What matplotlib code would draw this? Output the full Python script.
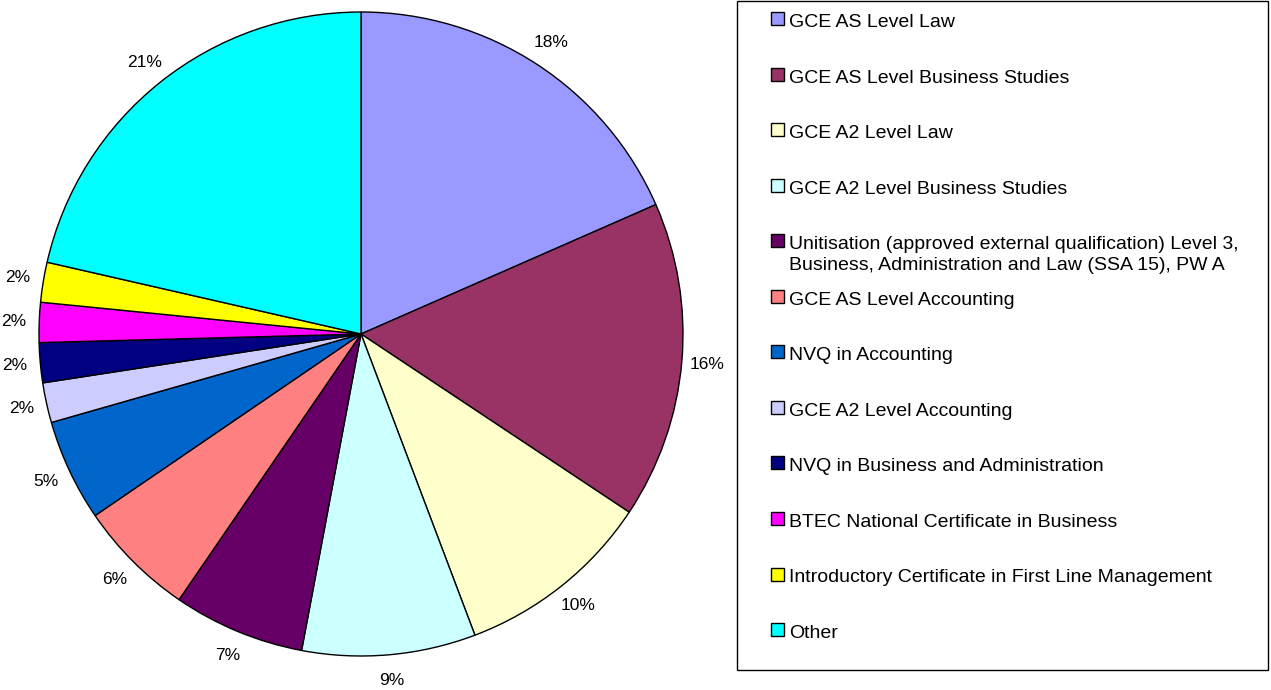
import matplotlib
matplotlib.use("Agg")
import matplotlib.pyplot as plt
from matplotlib.patches import Rectangle

plt.rcParams['font.family'] = ['Liberation Sans', 'DejaVu Sans']

# --- Dados ---
categorias = [
    'GCE AS Level Law',
    'GCE AS Level Business Studies',
    'GCE A2 Level Law',
    'GCE A2 Level Business Studies',
    'Unitisation (approved external qualification) Level 3,\nBusiness, Administration and Law (SSA 15), PW A',
    'GCE AS Level Accounting',
    'NVQ in Accounting',
    'GCE A2 Level Accounting',
    'NVQ in Business and Administration',
    'BTEC National Certificate in Business',
    'Introductory Certificate in First Line Management',
    'Other',
]
valores = [18.4, 15.9, 9.9, 8.7, 6.6, 5.9, 5.1, 2.0, 2.0, 2.0, 2.0, 21.4]
cores = ['#9999FF', '#993366', '#FFFFCC', '#CCFFFF', '#660066', '#FF8080',
         '#0066CC', '#CCCCFF', '#000080', '#FF00FF', '#FFFF00', '#00FFFF']

W, H = 1271, 690
fig = plt.figure(figsize=(W / 100, H / 100), dpi=100)

# eixo da pizza: centro (361, 334), raio 322 px
cx, cy, r = 361, 334, 322
half = r * 1.1
ax = fig.add_axes([(cx - half) / W, (H - cy - half) / H, 2 * half / W, 2 * half / H])
wedges, textos, pcts = ax.pie(valores, colors=cores, startangle=90, counterclock=False,
                              autopct='%.0f%%', pctdistance=1.08,
                              wedgeprops=dict(edgecolor='black', linewidth=1))
for t in pcts:
    t.set_fontsize(12.5)
    t.set_clip_on(False)
ax.set_xlim(-1.1, 1.1)
ax.set_ylim(-1.1, 1.1)
ax.set_aspect('equal')
ax.axis('off')

# --- Legenda manual ---
fig.patches.append(Rectangle((737 / W, 1 - 670 / H), (1268 - 737) / W, (670 - 1) / H,
                             transform=fig.transFigure, facecolor='white',
                             edgecolor='black', linewidth=1))
passo = 55.55
entrelinha = 21
for i, (nome, cor) in enumerate(zip(categorias, cores)):
    base = 27 + i * passo
    fig.patches.append(Rectangle((771 / W, 1 - (base - 2) / H), 13 / W, 13 / H,
                                 transform=fig.transFigure, facecolor=cor,
                                 edgecolor='black', linewidth=1))
    for j, linha in enumerate(nome.split('\n')):
        fig.text(789 / W, 1 - (base + j * entrelinha) / H, linha, fontsize=14,
                 va='baseline', ha='left')

fig.savefig('out.png', dpi=100)
